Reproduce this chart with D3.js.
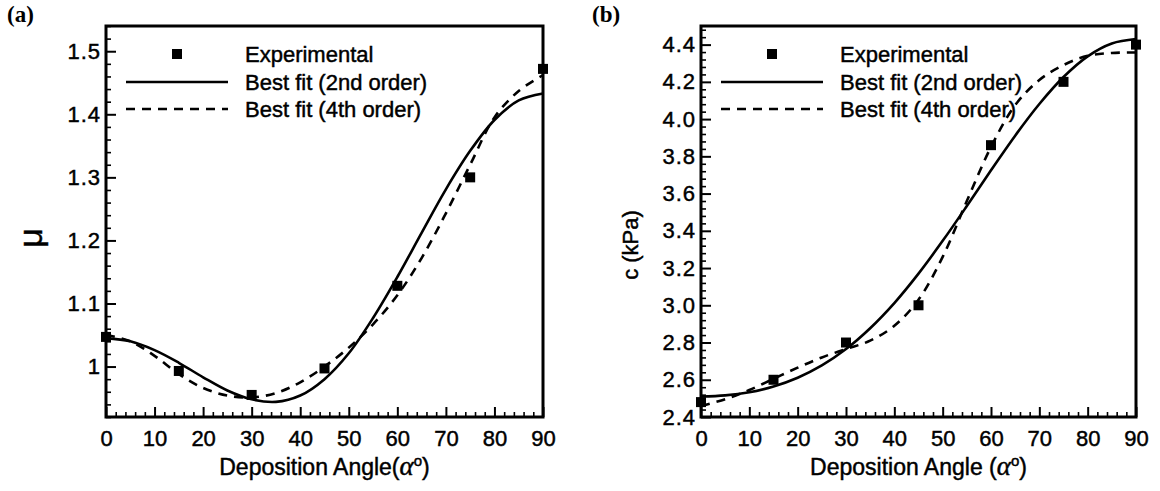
<!DOCTYPE html>
<html>
<head>
<meta charset="utf-8">
<script src="https://cdn.jsdelivr.net/npm/d3@7"></script>
<style>
  html, body { margin: 0; padding: 0; background: #fff; }
  svg { display: block; }
</style>
</head>
<body>
<svg id="chart" width="1160" height="491"></svg>
<script>
// Deposition angles (degrees) of the measured samples
const angles = [0, 15, 30, 45, 60, 75, 90];
// Angles at which the fitted curves are traced
const fitAngles = [0, 5, 10, 15, 20, 25, 30, 35, 40, 45, 50, 55, 60, 65, 70, 75, 80, 85, 90];

// Panel (a): friction coefficient mu
const muExperimental = [1.047, 0.993, 0.955, 0.997, 1.128, 1.300, 1.472];
const muFit2 = [1.045, 1.040, 1.026, 1.006, 0.983, 0.962, 0.948, 0.944, 0.954, 0.980,
                1.021, 1.077, 1.142, 1.212, 1.281, 1.342, 1.391, 1.422, 1.433];
const muFit4 = [1.050, 1.040, 1.017, 0.988, 0.966, 0.954, 0.951, 0.958, 0.975, 1.000,
                1.030, 1.067, 1.113, 1.172, 1.243, 1.320, 1.395, 1.437, 1.462];

// Panel (b): cohesion c (kPa)
const cExperimental = [2.48, 2.60, 2.80, 3.00, 3.86, 4.20, 4.40];
const cFit2 = [2.510, 2.516, 2.533, 2.564, 2.611, 2.677, 2.765, 2.877, 3.012, 3.170,
               3.346, 3.533, 3.725, 3.911, 4.081, 4.226, 4.337, 4.406, 4.430];
const cFit4 = [2.460, 2.495, 2.545, 2.605, 2.665, 2.720, 2.765, 2.810, 2.890, 3.030,
               3.260, 3.560, 3.850, 4.075, 4.210, 4.290, 4.340, 4.355, 4.358];

// Tick labels
const xTickValues = [0, 10, 20, 30, 40, 50, 60, 70, 80, 90];
const muTickValues = [1.0, 1.1, 1.2, 1.3, 1.4, 1.5];
const muTickLabels = ["1", "1.1", "1.2", "1.3", "1.4", "1.5"];
const cTickValues = [2.4, 2.6, 2.8, 3.0, 3.2, 3.4, 3.6, 3.8, 4.0, 4.2, 4.4];
const cTickLabels = ["2.4", "2.6", "2.8", "3.0", "3.2", "3.4", "3.6", "3.8", "4.0", "4.2", "4.4"];

// Legend entries
const legendLabels = ["Experimental", "Best fit (2nd order)", "Best fit (4th order)"];

const SANS = '"Liberation Sans", Arial, Helvetica, sans-serif';
const SERIF = '"Liberation Serif", "Times New Roman", serif';

const svg = d3.select("#chart");

// heavy, slightly outlined text like the printed figure
function ink(sel, size) {
  sel.style("font-family", SANS).style("font-size", size + "px")
    .style("fill", "#000").style("stroke", "#000").style("stroke-width", "0.45px");
}

function drawPanel(cfg) {
  const x = d3.scaleLinear().domain([0, 90]).range([cfg.left, cfg.right]);
  const y = d3.scaleLinear().domain(cfg.yDomain).range([cfg.bottom, cfg.top]);
  const g = svg.append("g");

  // minor ticks
  const xMinor = d3.range(0, 90.001, 2).filter(v => v % 10 !== 0);
  g.append("g")
    .attr("transform", `translate(0,${cfg.bottom})`)
    .call(d3.axisBottom(x).tickValues(xMinor).tickSize(-5).tickFormat(""))
    .call(s => s.select(".domain").remove())
    .call(s => s.selectAll("line").attr("stroke", "#000").attr("stroke-width", 1.6));

  const yMinor = d3.range(cfg.yDomain[0], cfg.yDomain[1] + 1e-9, cfg.minorStep)
    .filter(v => !cfg.yTicks.some(t => Math.abs(t - v) < 1e-6));
  g.append("g")
    .attr("transform", `translate(${cfg.left},0)`)
    .call(d3.axisLeft(y).tickValues(yMinor).tickSize(-5).tickFormat(""))
    .call(s => s.select(".domain").remove())
    .call(s => s.selectAll("line").attr("stroke", "#000").attr("stroke-width", 1.6));

  // major ticks with labels
  g.append("g")
    .attr("transform", `translate(0,${cfg.bottom})`)
    .call(d3.axisBottom(x).tickValues(xTickValues).tickSize(-10).tickPadding(13).tickFormat(d3.format("d")))
    .call(s => s.select(".domain").remove())
    .call(s => s.selectAll("line").attr("stroke", "#000").attr("stroke-width", 2))
    .call(s => s.selectAll("text").call(ink, 22));

  g.append("g")
    .attr("transform", `translate(${cfg.left},0)`)
    .call(d3.axisLeft(y).tickValues(cfg.yTicks).tickSize(-10).tickPadding(5)
      .tickFormat((d, i) => cfg.yLabels[i]))
    .call(s => s.select(".domain").remove())
    .call(s => s.selectAll("line").attr("stroke", "#000").attr("stroke-width", 2))
    .call(s => s.selectAll("text").call(ink, 22).style("letter-spacing", "1px"));

  // fitted curves
  const line = d3.line().x((d, i) => x(fitAngles[i])).y(d => y(d)).curve(d3.curveCatmullRom);
  g.append("path").datum(cfg.fit2).attr("d", line)
    .attr("fill", "none").attr("stroke", "#000").attr("stroke-width", 2.6);
  g.append("path").datum(cfg.fit4).attr("d", line)
    .attr("fill", "none").attr("stroke", "#000").attr("stroke-width", 2.6)
    .attr("stroke-dasharray", "9,7");

  // experimental points
  const sz = 10;
  g.selectAll("rect.pt").data(cfg.exp).join("rect").attr("class", "pt")
    .attr("x", (d, i) => x(angles[i]) - sz / 2)
    .attr("y", d => y(d) - sz / 2)
    .attr("width", sz).attr("height", sz).attr("fill", "#000");

  // frame
  g.append("rect")
    .attr("x", cfg.left).attr("y", cfg.top)
    .attr("width", cfg.right - cfg.left).attr("height", cfg.bottom - cfg.top)
    .attr("fill", "none").attr("stroke", "#000").attr("stroke-width", 3);

  // legend
  const lg = g.append("g").attr("transform", `translate(${cfg.left},0)`);
  const rows = [54, 82, 109];
  lg.append("rect").attr("x", 71 - sz / 2).attr("y", rows[0] - sz / 2)
    .attr("width", sz).attr("height", sz).attr("fill", "#000");
  lg.append("line").attr("x1", 20).attr("x2", 122).attr("y1", rows[1]).attr("y2", rows[1])
    .attr("stroke", "#000").attr("stroke-width", 2.6);
  lg.append("line").attr("x1", 20).attr("x2", 122).attr("y1", rows[2]).attr("y2", rows[2])
    .attr("stroke", "#000").attr("stroke-width", 2.6).attr("stroke-dasharray", "9,7");
  lg.selectAll("text.leg").data(legendLabels).join("text").attr("class", "leg")
    .attr("x", 139).attr("y", (d, i) => rows[i]).attr("dy", "0.36em")
    .call(ink, 22).text(d => d);

  // axis titles
  const xt = g.append("text")
    .attr("x", (cfg.left + cfg.right) / 2).attr("y", 475)
    .attr("text-anchor", "middle").call(ink, 23);
  xt.append("tspan").text(cfg.xTitle);
  xt.append("tspan").style("font-family", SERIF).style("font-style", "italic")
    .style("font-size", "27px").text("α");
  xt.append("tspan").style("font-size", "15px").attr("dy", -9).text("o");
  xt.append("tspan").attr("dy", 9).text(")");

  g.append("text")
    .attr("transform", `translate(${cfg.yTitleX},${cfg.yTitleY}) rotate(-90)`)
    .attr("text-anchor", "middle").attr("dy", "0.35em")
    .call(ink, cfg.yTitleSize).text(cfg.yTitle);

  // panel tag
  g.append("text").attr("x", cfg.tagX).attr("y", 22)
    .style("font-family", SERIF).style("font-weight", "bold")
    .style("font-size", "23px").style("fill", "#000").text(cfg.tag);
}

drawPanel({
  left: 106, right: 543, top: 26, bottom: 417,
  yDomain: [0.92, 1.54], minorStep: 0.02,
  yTicks: muTickValues, yLabels: muTickLabels,
  exp: muExperimental, fit2: muFit2, fit4: muFit4,
  xTitle: "Deposition Angle(", yTitle: "μ", yTitleX: 30, yTitleY: 238, yTitleSize: 34,
  tag: "(a)", tagX: 7
});

drawPanel({
  left: 701, right: 1136, top: 26, bottom: 417,
  yDomain: [2.4, 4.5], minorStep: 0.04,
  yTicks: cTickValues, yLabels: cTickLabels,
  exp: cExperimental, fit2: cFit2, fit4: cFit4,
  xTitle: "Deposition Angle (", yTitle: "c (kPa)", yTitleX: 630, yTitleY: 245, yTitleSize: 22,
  tag: "(b)", tagX: 592
});
</script>
</body>
</html>
